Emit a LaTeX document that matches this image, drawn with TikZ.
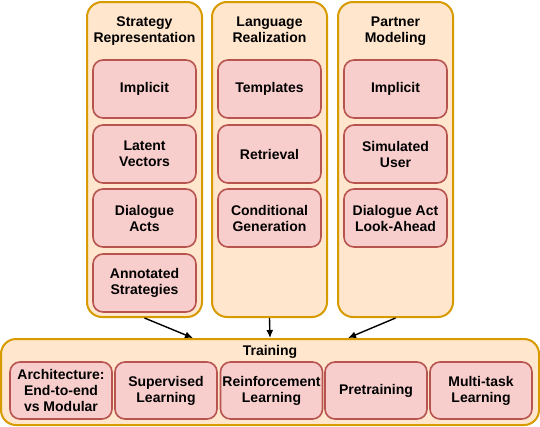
\documentclass[tikz,border=0pt]{standalone}
\usepackage{fontspec}
\setmainfont{Liberation Sans}
\usepackage{xcolor}
\usetikzlibrary{positioning,arrows.meta}

\definecolor{grpfill}{HTML}{FFE6CC}
\definecolor{grpline}{HTML}{D79B00}
\definecolor{itemfill}{HTML}{F8CECC}
\definecolor{itemline}{HTML}{B85450}

\begin{document}
\begin{tikzpicture}[x=1pt, y=-1pt,
  txt/.style={font=\bfseries\fontsize{14}{16}\selectfont, align=center},
  group/.style={draw=grpline, fill=grpfill, line width=2pt, rounded corners=15pt, inner sep=0pt},
  item/.style={txt, draw=itemline, fill=itemfill, line width=1.6pt, rounded corners=10pt,
    inner sep=0pt, minimum width=103pt, minimum height=58pt},
  titem/.style={item, minimum width=102pt, minimum height=57pt},
  arr/.style={line width=1.4pt, -{Latex[length=8pt, width=7pt]}}]
  \useasboundingbox (0,0) rectangle (540,426);

  % Columns
  \node[group, minimum width=115pt, minimum height=315pt] (sr) at (144.5,159.5) {};
  \node[group, minimum width=115pt, minimum height=315pt] (lr) at (269.5,159.5) {};
  \node[group, minimum width=115pt, minimum height=315pt] (pm) at (395.5,159.5) {};
  \node[txt, anchor=north] (srt) at (144.5,13.5) {Strategy\\Representation};
  \node[txt, anchor=north] (lrt) at (269.5,13.5) {Language\\Realization};
  \node[txt, anchor=north] (pmt) at (395.5,13.5) {Partner\\Modeling};

  % Strategy representation
  \node[item] (sr1) at (144.5,89) {Implicit};
  \node[item] (sr2) at (144.5,154) {Latent\\Vectors};
  \node[item] (sr3) at (144.5,218) {Dialogue\\Acts};
  \node[item] (sr4) at (144.5,283) {Annotated\\Strategies};

  % Language realization
  \node[item] (lr1) at (269.5,89) {Templates};
  \node[item] (lr2) at (269.5,154) {Retrieval};
  \node[item] (lr3) at (269.5,218) {Conditional\\Generation};

  % Partner modeling
  \node[item] (pm1) at (395.5,89) {Implicit};
  \node[item] (pm2) at (395.5,154) {Simulated\\User};
  \node[item] (pm3) at (395.5,218) {Dialogue Act\\Look-Ahead};

  % Training
  \node[group, minimum width=538pt, minimum height=86pt] (tr) at (270,382) {};
  \node[txt] (trt) at (270,352) {Training};
  \node[titem] (tr1) at (61,390.5) {Architecture:\\End-to-end\\vs Modular};
  \node[titem] (tr2) at (166,390.5) {Supervised\\Learning};
  \node[titem] (tr3) at (271.5,390.5) {Reinforcement\\Learning};
  \node[titem] (tr4) at (376,390.5) {Pretraining};
  \node[titem] (tr5) at (481,390.5) {Multi-task\\Learning};

  % Arrows
  \draw[arr] (sr.south) -- ([xshift=-77pt]tr.north);
  \draw[arr] (lr.south) -- (tr.north);
  \draw[arr] (pm.south) -- ([xshift=78pt]tr.north);
\end{tikzpicture}
\end{document}
